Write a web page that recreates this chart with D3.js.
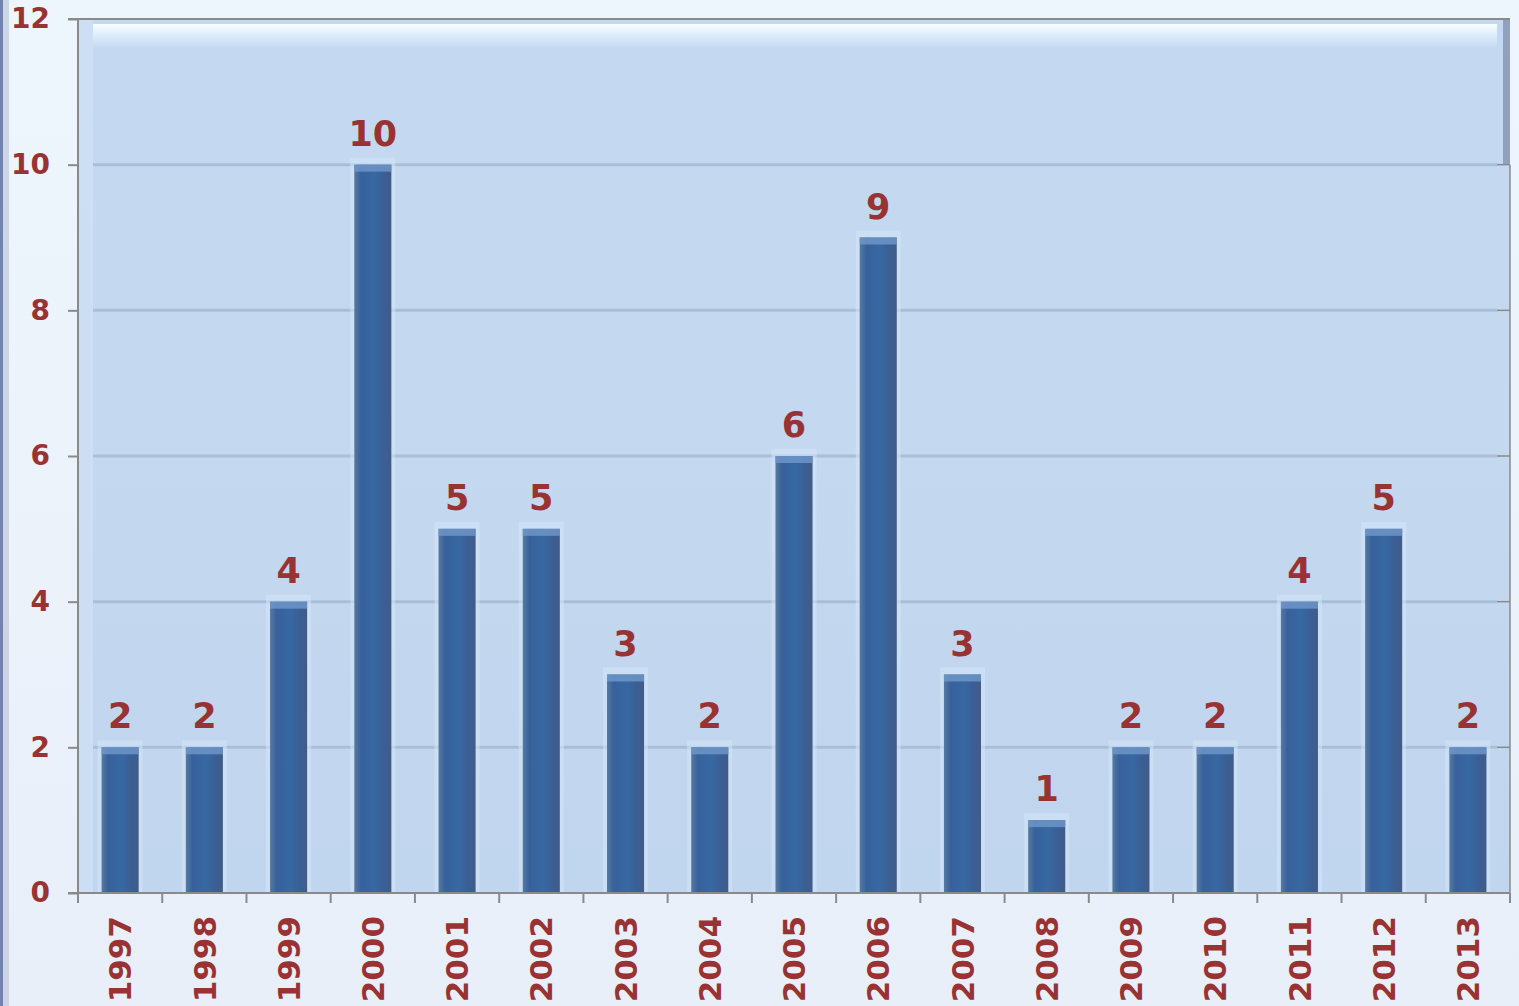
<!DOCTYPE html>
<meta charset="utf-8">
<style>
body { margin: 0; background: #edf5fc; }
text { font-family: "DejaVu Sans", Verdana, sans-serif; font-weight: bold; fill: #993333; }
</style>
<body>
<script src="https://d3js.org/d3.v7.min.js"></script>
<script>

let years = ['1997','1998','1999','2000','2001','2002','2003','2004','2005','2006','2007','2008','2009','2010','2011','2012','2013'];
let counts = [2,2,4,10,5,5,3,2,6,9,3,1,2,2,4,5,2];
let yTicks = [0,2,4,6,8,10,12];

let width = 1519, height = 1006;
let mLeft = 78, mRight = 1510, mTop = 19, mBottom = 893;

let svg = d3.select('body').append('svg')
	.attr('width', width)
	.attr('height', height);

let defs = svg.append('defs');

let pageGrad = defs.append('linearGradient').attr('id','page').attr('x1',0).attr('y1',0).attr('x2',0).attr('y2',1);
pageGrad.append('stop').attr('offset','0').attr('stop-color','#eef6fd');
pageGrad.append('stop').attr('offset','1').attr('stop-color','#e8eff8');

let plotGrad = defs.append('linearGradient').attr('id','plot').attr('x1',0).attr('y1',0).attr('x2',0).attr('y2',1);
plotGrad.append('stop').attr('offset','0').attr('stop-color','#c4d9f1');
plotGrad.append('stop').attr('offset','0.5').attr('stop-color','#c4d8ef');
plotGrad.append('stop').attr('offset','1').attr('stop-color','#c0d6ee');

let topGrad = defs.append('linearGradient').attr('id','toph').attr('x1',0).attr('y1',0).attr('x2',0).attr('y2',1);
topGrad.append('stop').attr('offset','0').attr('stop-color','#f8fdff');
topGrad.append('stop').attr('offset','0.5').attr('stop-color','#dcebfb');
topGrad.append('stop').attr('offset','1').attr('stop-color','#c4d9f1');

let barGrad = defs.append('linearGradient').attr('id','bar').attr('x1',0).attr('y1',0).attr('x2',1).attr('y2',0);
barGrad.append('stop').attr('offset','0').attr('stop-color','#567aa0');
barGrad.append('stop').attr('offset','0.18').attr('stop-color','#38619c');
barGrad.append('stop').attr('offset','0.55').attr('stop-color','#3768a2');
barGrad.append('stop').attr('offset','0.8').attr('stop-color','#3a5f95');
barGrad.append('stop').attr('offset','1').attr('stop-color','#425b88');

// page
svg.append('rect').attr('width', width).attr('height', height).attr('fill', 'url(#page)');
svg.append('rect').attr('x',0).attr('y',0).attr('width',3).attr('height',height).attr('fill','#7282b4');
svg.append('rect').attr('x',3).attr('y',0).attr('width',6).attr('height',height).attr('fill','#b6c2d6').attr('opacity',0.6);

let x = d3.scaleBand()
	.domain(years)
	.range([mLeft, mRight])
	.paddingInner(0.56)
	.paddingOuter(0.28);

let y = d3.scaleLinear()
	.domain([0, 12])
	.range([mBottom, mTop]);

// plot background
svg.append('rect')
	.attr('x', mLeft).attr('y', mTop)
	.attr('width', mRight - mLeft).attr('height', mBottom - mTop)
	.attr('fill', 'url(#plot)');
svg.append('rect')
	.attr('x', 93).attr('y', mTop + 5)
	.attr('width', 1497 - 93).attr('height', 24)
	.attr('fill', 'url(#toph)');
svg.append('rect')
	.attr('x', mLeft).attr('y', mTop)
	.attr('width', 15).attr('height', mBottom - mTop)
	.attr('fill', '#d3e3f6').attr('opacity', 0.6);
svg.append('rect')
	.attr('x', 1503).attr('y', mTop)
	.attr('width', 7).attr('height', y(10) - mTop)
	.attr('fill', '#90a1bd');

// gridlines
let inner = yTicks.filter(d => d > 0 && d < 12);
let grid = svg.append('g');
grid.selectAll('line.g')
	.data(inner)
	.join('line')
	.attr('class','g')
	.attr('x1', 93).attr('x2', 1497)
	.attr('y1', d => y(d)).attr('y2', d => y(d))
	.attr('stroke', '#a9bfd8')
	.attr('stroke-width', 3);
grid.selectAll('line.r')
	.data(inner)
	.join('line')
	.attr('class','r')
	.attr('x1', 1497).attr('x2', mRight)
	.attr('y1', d => y(d)).attr('y2', d => y(d))
	.attr('stroke', '#8a8a8a')
	.attr('stroke-width', 1.5);
svg.append('line')
	.attr('x1', mRight).attr('x2', mRight)
	.attr('y1', y(10)).attr('y2', mBottom)
	.attr('stroke', '#8a8a8a').attr('stroke-width', 1.5);
svg.append('line')
	.attr('x1', mLeft - 10).attr('x2', mRight)
	.attr('y1', mTop).attr('y2', mTop)
	.attr('stroke', '#8a8a8a').attr('stroke-width', 2);

// bars
let bars = svg.append('g');
let bw = x.bandwidth();
// pale halo round each bar
bars.selectAll('rect.halo')
	.data(counts)
	.join('rect')
	.attr('class','halo')
	.attr('x', (d,i) => x(years[i]) - 4)
	.attr('y', d => y(d) - 7)
	.attr('width', bw + 8)
	.attr('height', d => mBottom - y(d) + 7)
	.attr('fill', '#d4e6f8')
	.attr('opacity', 0.55);
bars.selectAll('rect.bar')
	.data(counts)
	.join('rect')
	.attr('class','bar')
	.attr('x', (d,i) => x(years[i]))
	.attr('y', d => y(d))
	.attr('width', bw)
	.attr('height', d => mBottom - y(d))
	.attr('fill', 'url(#bar)');
bars.selectAll('rect.cap')
	.data(counts)
	.join('rect')
	.attr('class','cap')
	.attr('x', (d,i) => x(years[i]))
	.attr('y', d => y(d))
	.attr('width', bw)
	.attr('height', 7)
	.attr('fill', '#7198cc')
	.attr('opacity', 0.8);

// value labels
svg.append('g').selectAll('text')
	.data(counts)
	.join('text')
	.attr('x', (d,i) => x(years[i]) + bw / 2)
	.attr('y', d => y(d) - 19)
	.attr('text-anchor', 'middle')
	.style('font-size', '35px')
	.text(d => d);

// axes
let yAxis = svg.append('g')
	.attr('transform', `translate(${mLeft},0)`)
	.call(d3.axisLeft(y).tickValues(yTicks).tickSize(10).tickPadding(20));
yAxis.select('.domain').attr('stroke', '#8a8a8a').attr('stroke-width', 2).attr('d', `M0,${mTop}V${mBottom}`);
yAxis.selectAll('.tick line').attr('stroke', '#8a8a8a').attr('stroke-width', 2);
yAxis.selectAll('.tick text')
	.attr('x', -28)
	.style('font-size', '28px')
	.style('font-family', '"DejaVu Sans", Verdana, sans-serif')
	.attr('fill', '#993333');

let xAxis = svg.append('g')
	.attr('transform', `translate(0,${mBottom})`)
	.call(d3.axisBottom(x).tickSize(0));
xAxis.select('.domain').attr('stroke', '#8a8a8a').attr('stroke-width', 2).attr('d', `M${mLeft - 10},0H${mRight}`);
xAxis.selectAll('.tick text')
	.attr('x', null).attr('y', null)
	.attr('transform', 'translate(0,23) rotate(-90)')
	.attr('text-anchor', 'end')
	.attr('dy', '0.36em')
	.style('font-size', '31px')
	.style('font-family', '"DejaVu Sans", Verdana, sans-serif')
	.attr('fill', '#993333');

// band boundary ticks
let bounds = years.map(v => x(v) - x.step() * x.paddingInner() / 2);
bounds[0] = mLeft;
bounds.push(mRight);
xAxis.selectAll('line.sep')
	.data(bounds)
	.join('line')
	.attr('class','sep')
	.attr('x1', d => d).attr('x2', d => d)
	.attr('y1', 0).attr('y2', 10)
	.attr('stroke', '#8a8a8a').attr('stroke-width', 2);

</script>
</body>
